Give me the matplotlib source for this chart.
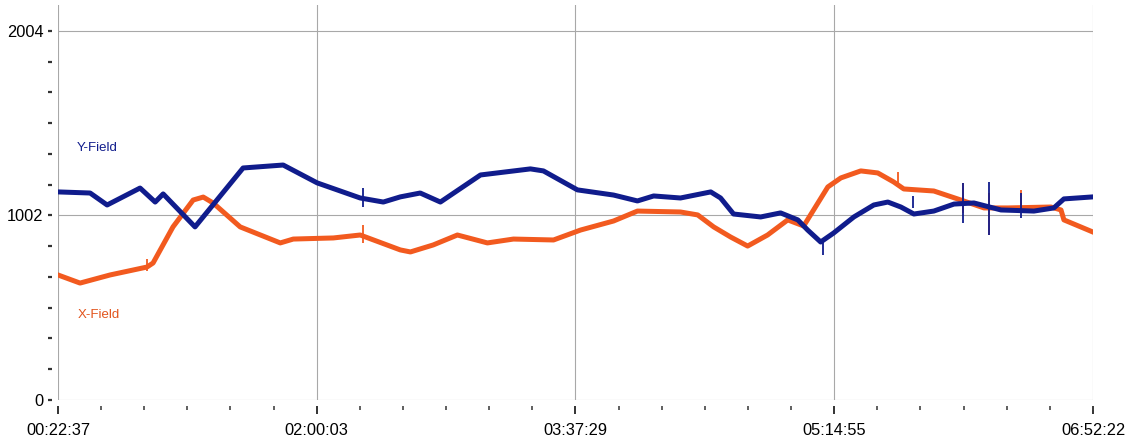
import matplotlib.pyplot as plt
from matplotlib.ticker import FixedLocator, AutoMinorLocator

plt.rcParams['font.family'] = ['Liberation Sans', 'DejaVu Sans']

# minutes after 00:22:37
y_t = [0, 12.1, 18.5, 30.9, 36.6, 39.6, 51.6, 69.7, 84.8, 97.6, 113.8, 122.5,
       128.9, 136.4, 144.0, 159.1, 177.9, 182.8, 195.6, 209.2, 218.2, 224.3,
       234.4, 245.8, 249.5, 254.4, 264.6, 272.1, 278.6, 282.3, 287.2, 292.1,
       299.7, 307.2, 312.5, 317.4, 322.3, 329.8, 337.4, 344.9, 355.1, 367.5,
       375.0, 378.8, 389.75]
y_field = [1130, 1124, 1059, 1151, 1075, 1119, 940, 1260, 1276, 1179, 1097, 1075,
           1103, 1124, 1075, 1222, 1255, 1244, 1141, 1113, 1081, 1108,
           1097, 1130, 1097, 1010, 994, 1016, 978, 923, 858, 907,
           994, 1059, 1075, 1048, 1010, 1026, 1064, 1070, 1032, 1026,
           1043, 1092, 1103]

x_t = [0, 8.3, 19.6, 33.5, 35.8, 43.3, 50.9, 54.7, 58.4, 68.6, 83.7, 88.6,
       103.7, 113.8, 128.9, 132.7, 141.3, 150.4, 161.7, 171.5, 186.6, 196.8,
       209.2, 218.2, 234.4, 240.9, 246.9, 253.3, 259.7, 267.2, 274.8, 280.8,
       289.9, 294.8, 302.3, 308.7, 314.7, 318.5, 329.8, 340.0, 348.7, 357.7,
       373.9, 377.7, 378.8, 389.75]
x_field = [679, 635, 679, 722, 744, 940, 1086, 1102, 1070, 940, 853, 874,
           880, 896, 815, 804, 842, 896, 853, 874, 869, 923,
           972, 1026, 1021, 1005, 940, 885, 836, 896, 978, 945,
           1157, 1206, 1244, 1233, 1184, 1146, 1135, 1086, 1043, 1043,
           1048, 1032, 978, 912]

# short spikes: time, low, high
y_spike_t = [115.0, 288.0, 322.0, 340.7, 350.5, 362.6]
y_spike_lo = [1050, 787, 1040, 961, 896, 988]
y_spike_hi = [1150, 870, 1110, 1178, 1184, 1124]
x_spike_t = [33.5, 115.0, 316.2, 340.7, 350.5, 362.6]
x_spike_lo = [700, 850, 1170, 1016, 896, 1032]
x_spike_hi = [765, 950, 1240, 1178, 1124, 1141]

time_labels = ["00:22:37", "02:00:03", "03:37:29", "05:14:55", "06:52:22"]
y_ticks = [0, 1002, 2004]


def to_sec(s):
    h, m, sec = [int(v) for v in s.split(':')]
    return h * 3600 + m * 60 + sec


t0 = to_sec(time_labels[0])
x_ticks = [(to_sec(s) - t0) / 60 for s in time_labels]

blue = '#101c8c'
orange = '#f25a1f'

fig = plt.figure(figsize=(11.28, 4.41), dpi=100)
ax = fig.add_axes([58 / 1128, 1 - 400 / 441, 1035 / 1128, 395 / 441])

ax.plot(x_t, x_field, color=orange, lw=3.6, solid_joinstyle='round', zorder=3)
ax.vlines(x_spike_t, x_spike_lo, x_spike_hi, color=orange, lw=1.3, zorder=3)
ax.plot(y_t, y_field, color=blue, lw=3.6, solid_joinstyle='round', zorder=4)
ax.vlines(y_spike_t, y_spike_lo, y_spike_hi, color=blue, lw=1.3, zorder=4)

ax.text(7.2, 1369, 'Y-Field', color=blue, fontsize=9.5, va='center', ha='left')
ax.text(7.5, 462, 'X-Field', color='#e2541c', fontsize=9.5, va='center', ha='left')

ax.set_xlim(0, x_ticks[-1])
ax.set_ylim(0, 2145)

ax.xaxis.set_major_locator(FixedLocator(x_ticks))
ax.xaxis.set_minor_locator(AutoMinorLocator(6))
ax.set_xticklabels(time_labels)
ax.yaxis.set_major_locator(FixedLocator(y_ticks))
ax.yaxis.set_minor_locator(AutoMinorLocator(6))
ax.set_yticklabels([str(v) for v in y_ticks])

for s in ax.spines.values():
    s.set_visible(False)
ax.spines['left'].set_position(('outward', 4.3))
ax.spines['bottom'].set_position(('outward', 4.3))

ax.grid(True, which='major', color='#a8a8a8', lw=0.8)
ax.tick_params(axis='y', which='both', direction='out', length=3, width=1.6,
               color='#333333', labelsize=11.8, pad=3)
ax.tick_params(axis='x', which='major', direction='out', length=6, width=1.4,
               color='#333333', labelsize=11.8, pad=6)
ax.tick_params(axis='x', which='minor', direction='out', length=3.2, width=1.2,
               color='#444444')

fig.savefig('out.png', dpi=100)
